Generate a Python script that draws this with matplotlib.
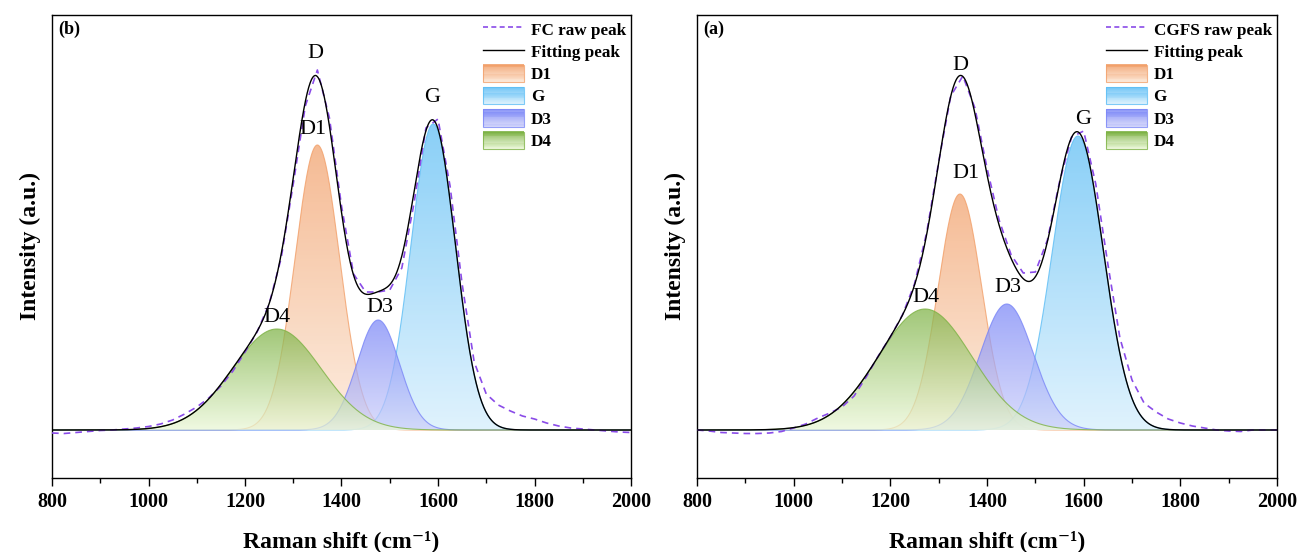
import numpy as np
import matplotlib
matplotlib.use("Agg")
import matplotlib.pyplot as plt
from matplotlib.colors import LinearSegmentedColormap
from matplotlib.patches import Rectangle, Patch
from matplotlib.lines import Line2D
from matplotlib.legend_handler import HandlerBase
from matplotlib.ticker import MultipleLocator

plt.rcParams['font.family'] = ['Liberation Serif', 'DejaVu Serif']

# fitted components: name, centre (cm-1), height (a.u.), sigma (cm-1)
peak_names = ["D1", "G", "D3", "D4"]
fc_centres = [1350, 1590, 1476, 1266]
fc_heights = [285, 306, 110, 101]
fc_sigmas = [46, 46, 44, 92]
cgfs_centres = [1344, 1588, 1441, 1272]
cgfs_heights = [236, 294, 126, 121]
cgfs_sigmas = [45, 53, 55, 97]

# raw spectra
raw_x = list(range(800, 2001, 25))
fc_raw = [-3, -3.5, -2.5, -1.5, -0.5, 0, 1, 2, 3.5, 6, 10, 16, 23, 32, 44, 59, 78,
          98, 126, 172, 246, 324, 360, 312, 224, 156, 138, 138, 140, 162, 226, 302,
          311, 244, 146, 68, 36, 25, 19, 14, 11, 7, 4, 2, 1, 0, -1, -2, -2.5]
cgfs_raw = [0, -1, -2.5, -3, -3.5, -3.5, -3, -1.5, 2, 6, 12, 17, 23, 34, 53, 74, 93,
            115, 146, 197, 268, 334, 354, 322, 262, 210, 175, 157, 158, 190, 248, 293,
            299, 246, 166, 92, 50, 27, 18, 11, 7, 4, 2, 0, -1, -1.5, 0, 0, 0]

# colour styling (top, bottom) per component
grad_top = ["#F2A06A", "#5CBDF5", "#7A86F7", "#7DB244"]
grad_bot = ["#FCE6D4", "#D4EEFD", "#CDD0FA", "#EAF7D6"]
raw_color = "#8A4BE8"


class GradHandler(HandlerBase):
    def __init__(self, top, bot):
        super().__init__()
        self.cmap = LinearSegmentedColormap.from_list("", [bot, top])
        self.top = top

    def create_artists(self, legend, orig_handle, xdescent, ydescent,
                       width, height, fontsize, trans):
        n = 16
        arts = []
        for i in range(n):
            r = Rectangle((-xdescent, -ydescent + i * height / n), width,
                          height / n + 0.3, facecolor=self.cmap(i / (n - 1)),
                          lw=0, alpha=0.85, transform=trans)
            arts.append(r)
        arts.append(Rectangle((-xdescent, -ydescent), width, height,
                              facecolor="none", edgecolor=self.top, lw=0.8,
                              alpha=0.8, transform=trans))
        return arts


def gauss(x, c, h, s):
    return h * np.exp(-(x - c) ** 2 / (2 * s ** 2))


def draw_panel(ax, centres, heights, sigmas, raw, raw_label, labels, tag):
    x = np.linspace(800, 2000, 1201)
    comps = [gauss(x, c, h, s) for c, h, s in zip(centres, heights, sigmas)]
    for i, y in enumerate(comps):
        poly = ax.fill_between(x, 0, y, facecolor="none", lw=0)
        path = poly.get_paths()[0]
        cmap = LinearSegmentedColormap.from_list("", [grad_bot[i], grad_top[i]])
        grad = np.linspace(0, 1, 256)[:, None]
        im = ax.imshow(grad, cmap=cmap, aspect="auto", origin="lower",
                       extent=[800, 2000, 0, heights[i]], alpha=0.72, zorder=2)
        im.set_clip_path(path, transform=ax.transData)
        ax.plot(x, y, color=grad_top[i], lw=0.8, alpha=0.8, zorder=2)
    fit = np.sum(comps, axis=0)
    ax.plot(raw_x, raw, color=raw_color, lw=1.2, ls=(0, (4, 3)), zorder=3)
    ax.plot(x, fit, color="black", lw=1.0, zorder=4)

    for name, (px, py) in labels.items():
        ax.text(px, py, name, ha="center", va="center", fontsize=16, zorder=5)
    ax.text(0.01, 0.988, tag, transform=ax.transAxes, ha="left", va="top",
            fontsize=13, fontweight="bold")

    ax.set_xlim(800, 2000)
    ax.set_ylim(-48, 415)
    ax.xaxis.set_major_locator(MultipleLocator(200))
    ax.xaxis.set_minor_locator(MultipleLocator(100))
    ax.tick_params(axis="x", which="major", direction="out", length=6, width=1,
                   labelsize=14.5, pad=4)
    ax.tick_params(axis="x", which="minor", direction="out", length=3.5, width=1)
    ax.set_yticks([])
    for lab in ax.get_xticklabels():
        lab.set_fontweight("bold")
    for sp in ax.spines.values():
        sp.set_linewidth(1.0)
    ax.set_xlabel("Raman shift (cm\u207b\u00b9)", fontsize=17,
                  fontweight="bold", labelpad=13)
    ax.set_ylabel("Intensity (a.u.)", fontsize=17, fontweight="bold", labelpad=8)

    handles = [Line2D([], [], color=raw_color, lw=1.2, ls=(0, (3, 2))),
               Line2D([], [], color="black", lw=1.0)]
    hmap = {}
    for i in range(4):
        p = Patch()
        handles.append(p)
        hmap[p] = GradHandler(grad_top[i], grad_bot[i])
    ax.legend(handles, [raw_label, "Fitting peak"] + peak_names, handler_map=hmap,
              loc="upper right", frameon=False, prop={"weight": "bold", "size": 12.3},
              labelspacing=0.22, handlelength=2.4, handleheight=1.2,
              handletextpad=0.4, borderaxespad=0.1, borderpad=0.2)


fig = plt.figure(figsize=(12.98, 5.52), dpi=100)
ax1 = fig.add_axes([52 / 1298, 1 - 478 / 552, 579 / 1298, 463 / 552])
ax2 = fig.add_axes([697 / 1298, 1 - 478 / 552, 580 / 1298, 463 / 552])

draw_panel(ax1, fc_centres, fc_heights, fc_sigmas, fc_raw, "FC raw peak",
           {"D": (1345, 377), "D1": (1341, 300), "G": (1588, 332),
            "D3": (1480, 122), "D4": (1266, 113)}, "(b)")
draw_panel(ax2, cgfs_centres, cgfs_heights, cgfs_sigmas, cgfs_raw, "CGFS raw peak",
           {"D": (1344, 365), "D1": (1357, 257), "G": (1599, 310),
            "D3": (1444, 142), "D4": (1274, 133)}, "(a)")

fig.savefig("out.png", dpi=100)
